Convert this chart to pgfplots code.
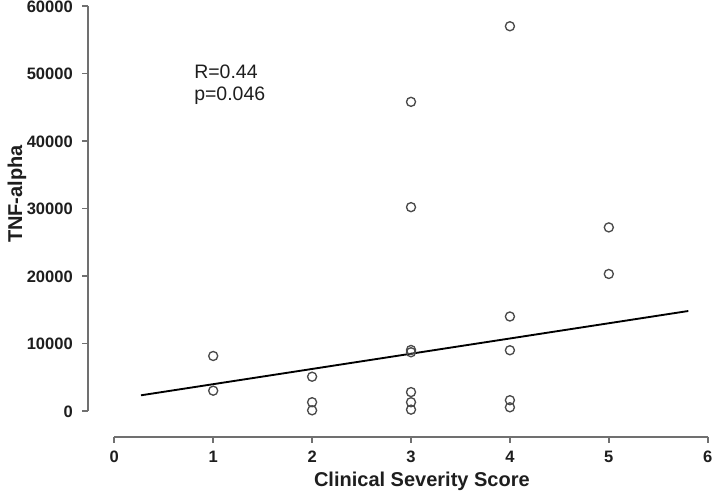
\documentclass[border=0pt]{standalone}
\usepackage{fontspec}
\setmainfont{Liberation Sans}
\usepackage{pgfplots}
\pgfplotsset{compat=1.18}

\definecolor{axisgray}{HTML}{707070}
\definecolor{markgray}{HTML}{4A4A4A}
\definecolor{textdark}{HTML}{1E1E1E}

\newcommand{\tickfont}{\bfseries\fontsize{12.4}{14}\selectfont}
\newcommand{\labelfont}{\bfseries\fontsize{15}{18}\selectfont}
\newcommand{\notefont}{\fontsize{14.6}{17}\selectfont}

\begin{document}
\begin{tikzpicture}
\begin{axis}[
  scale only axis,
  width=535.5pt, height=368.25pt,
  xmin=-1.1557, xmax=6.0637,
  ymin=-11852, ymax=60889,
  hide axis, clip=false,
]
% TNF-alpha against clinical severity score
\addplot[only marks, mark=o, mark size=3.4pt, draw=markgray, line width=1pt] table {
x y
1 8150
1 3010
2 5080
2 1300
2 100
3 45800
3 30200
3 9040
3 8700
3 2800
3 1300
3 200
4 57000
4 14000
4 9000
4 1600
4 550
5 27200
5 20300
};
% least-squares fit
\addplot[black, line width=1.4pt] coordinates {(0.27,2326) (5.804,14815)};

% detached y axis
\draw[axisgray, line width=1.3pt] (axis cs:-0.266,0) -- (axis cs:-0.266,60000);
\pgfplotsinvokeforeach{0,10000,20000,30000,40000,50000,60000}{
  \draw[axisgray, line width=1.3pt] (axis cs:-0.266,#1) -- (axis cs:-0.327,#1);
  \node[anchor=base east, inner sep=0pt, text=textdark, font=\tickfont] at (axis cs:-0.4176,#1-890) {#1};
}
% detached x axis
\draw[axisgray, line width=1.3pt] (axis cs:0,-3807) -- (axis cs:6,-3807);
\pgfplotsinvokeforeach{0,1,2,3,4,5,6}{
  \draw[axisgray, line width=1.3pt] (axis cs:#1,-3807) -- (axis cs:#1,-4696);
  \node[anchor=base, inner sep=0pt, text=textdark, font=\tickfont] at (axis cs:#1,-7600) {#1};
}
% axis titles
\node[anchor=base, inner sep=0pt, text=textdark, font=\labelfont] at (axis cs:3.11,-11111) {Clinical Severity Score};
\node[anchor=base, rotate=90, inner sep=0pt, text=textdark, font=\labelfont] at (axis cs:-0.933,32148) {TNF-alpha};
% correlation note
\node[anchor=base west, inner sep=0pt, text=textdark, font=\notefont] at (axis cs:0.806,49186) {R=0.44};
\node[anchor=base west, inner sep=0pt, text=textdark, font=\notefont] at (axis cs:0.806,45926) {p=0.046};
\end{axis}
\pgfresetboundingbox
\path (current axis.south west) rectangle (current axis.north east);
\end{tikzpicture}
\end{document}
